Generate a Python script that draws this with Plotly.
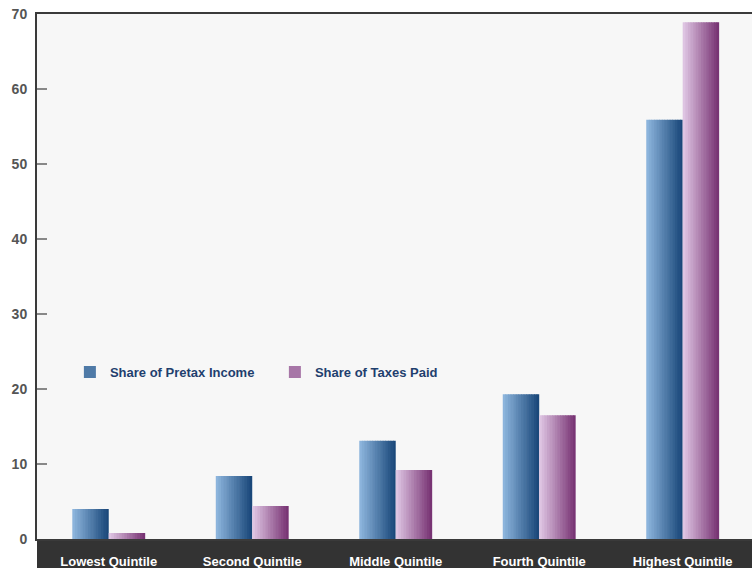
import plotly.graph_objects as go

categories = ["Lowest Quintile", "Second Quintile", "Middle Quintile", "Fourth Quintile", "Highest Quintile"]
pretax_income = [4.0, 8.4, 13.1, 19.3, 55.9]
taxes_paid = [0.8, 4.4, 9.2, 16.5, 68.9]
series_names = ["Share of Pretax Income", "Share of Taxes Paid"]
y_ticks = [0, 10, 20, 30, 40, 50, 60, 70]

FONT = "Liberation Sans, Arial, sans-serif"
BAR_W = 0.254
N = 14

grad = {
    0: ((140, 180, 220), (26, 72, 122)),
    1: ((222, 196, 226), (120, 52, 116)),
}

def lerp(c0, c1, t):
    return "rgb(%d,%d,%d)" % tuple(round(a + (b - a) * t) for a, b in zip(c0, c1))

fig = go.Figure()
for s, vals in enumerate([pretax_income, taxes_paid]):
    c0, c1 = grad[s]
    base_off = -BAR_W if s == 0 else 0.0
    step = BAR_W / N
    for i in range(N):
        t = i / (N - 1)
        w = step * 1.25 if i < N - 1 else step
        fig.add_trace(go.Bar(
            x=categories, y=vals,
            offset=base_off + i * step, width=w,
            marker=dict(color=lerp(c0, c1, t), line=dict(width=0)),
            name=series_names[s], legendgroup=series_names[s],
            showlegend=(i == N // 2),
            hoverinfo="skip" if i != N // 2 else None,
        ))

fig.update_layout(
    width=752, height=568,
    margin=dict(l=37, r=0, t=14, b=29),
    barmode="overlay",
    paper_bgcolor="white",
    plot_bgcolor="#f7f7f7",
    font=dict(family=FONT),
    showlegend=True,
    legend=dict(
        orientation="h", x=0.046, y=0.318, xanchor="left", yanchor="middle",
        bgcolor="rgba(0,0,0,0)",
        font=dict(size=13, color="#1f3f6e", family=FONT, weight="bold"),
        entrywidth=160, entrywidthmode="pixels",
        traceorder="normal",
    ),
    xaxis=dict(
        type="category", range=[-0.5, 4.483],
        showline=True, linecolor="#3a3a3a", linewidth=2, mirror=True,
        showgrid=False, ticks="", zeroline=False,
        tickfont=dict(size=13, color="white", family=FONT, weight="bold"),
        ticklabelstandoff=9,
    ),
    yaxis=dict(
        range=[0, 70], tickvals=y_ticks,
        showline=True, linecolor="#3a3a3a", linewidth=2,
        showgrid=False, zeroline=False,
        ticks="inside", ticklen=10, tickcolor="#888", tickwidth=1.5,
        tickfont=dict(size=14, color="#555555", family=FONT, weight="bold"),
        ticklabelstandoff=5,
    ),
    shapes=[dict(
        type="rect", xref="paper", yref="paper",
        x0=0, x1=1.01, y0=-0.1, y1=0,
        fillcolor="#333333", line=dict(width=0), layer="below",
    )],
)

fig.write_html("out.html")
